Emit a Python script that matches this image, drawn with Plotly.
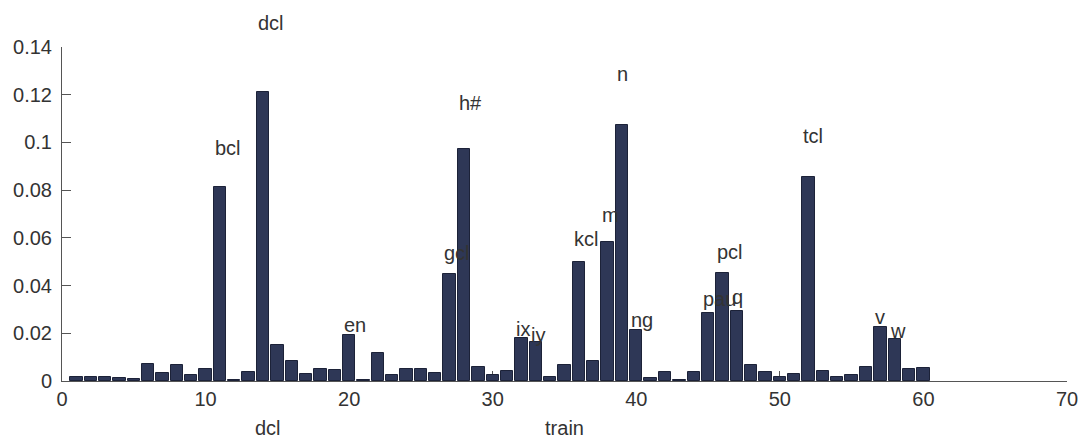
import plotly.graph_objects as go

# bar index 1..60
positions = list(range(1, 61))
values = [
    0.0018, 0.0018, 0.0017, 0.0013, 0.0008, 0.0071, 0.0035, 0.0066, 0.0025, 0.0052,
    0.0813, 0.0003, 0.0038, 0.1210, 0.0152, 0.0084, 0.0028, 0.0052, 0.0045, 0.0194,
    0.0006, 0.0119, 0.0025, 0.0050, 0.0052, 0.0032, 0.0447, 0.0971, 0.0057, 0.0024,
    0.0043, 0.0181, 0.0162, 0.0015, 0.0068, 0.0497, 0.0084, 0.0581, 0.1071, 0.0214,
    0.0012, 0.0039, 0.0003, 0.0039, 0.0286, 0.0451, 0.0292, 0.0066, 0.0038, 0.0015,
    0.0029, 0.0856, 0.0040, 0.0018, 0.0024, 0.0060, 0.0225, 0.0174, 0.0052, 0.0053,
]

# labelled phones: (bar index, label)
label_pos = [11, 14, 20, 27, 28, 32, 33, 36, 38, 39, 40, 45, 46, 47, 52, 57, 58]
label_txt = ["bcl", "dcl", "en", "gcl", "h#", "ix", "iy", "kcl", "m", "n", "ng",
             "pau", "pcl", "q", "tcl", "v", "w"]

y_ticks = [0, 0.02, 0.04, 0.06, 0.08, 0.1, 0.12, 0.14]
y_tick_text = ["0", "0.02", "0.04", "0.06", "0.08", "0.1", "0.12", "0.14"]
x_ticks = [0, 10, 20, 30, 40, 50, 60, 70]
x_tick_text = ["0", "10", "20", "30", "40", "50", "60", "70"]

x_label = "train"
bottom_label = "dcl"

FONT = "Liberation Sans, Arial, Helvetica, sans-serif"
TXT = "#333333"
AX = "#555555"
Y_MAX = 0.14

fig = go.Figure()
fig.add_trace(go.Bar(
    x=positions, y=values, width=0.86,
    marker=dict(color="#2e3756", line=dict(color="#1c2238", width=1)),
    hoverinfo="x+y",
))

for k, t in zip(label_pos, label_txt):
    v = values[k - 1]
    ly = v * 1.2
    if ly > Y_MAX * 0.98:
        # label above the axis top: place in paper units
        fig.add_annotation(
            x=k - 0.5, y=ly / Y_MAX, xref="x", yref="paper", text=t, showarrow=False,
            xanchor="left", yanchor="middle", font=dict(size=20, color=TXT, family=FONT),
            yshift=12,
        )
    else:
        fig.add_annotation(
            x=k - 0.5, y=ly, xref="x", yref="y", text=t, showarrow=False,
            xanchor="left", yanchor="middle", font=dict(size=20, color=TXT, family=FONT),
        )

fig.add_annotation(
    x=14.35, y=-0.14, xref="x", yref="paper", text=bottom_label, showarrow=False,
    xanchor="center", yanchor="middle", font=dict(size=20, color=TXT, family=FONT),
)

fig.update_layout(
    width=1084, height=439,
    margin=dict(l=62, r=17, t=47, b=58, autoexpand=False),
    paper_bgcolor="white", plot_bgcolor="white",
    showlegend=False,
    font=dict(family=FONT, size=20, color=TXT),
    bargap=0,
)
fig.update_xaxes(
    range=[0, 70], tickvals=x_ticks, ticktext=x_tick_text,
    ticks="inside", ticklen=10, tickcolor=AX, tickwidth=1,
    showline=True, linecolor=AX, linewidth=1, showgrid=False, zeroline=False,
    layer="below traces", automargin=False,
    title=dict(text=x_label, font=dict(size=20, color=TXT, family=FONT), standoff=11),
)
fig.update_yaxes(
    range=[0, Y_MAX], tickvals=y_ticks, ticktext=y_tick_text,
    ticks="inside", ticklen=9, tickcolor=AX, tickwidth=1,
    showline=True, linecolor=AX, linewidth=1, showgrid=False, zeroline=False,
    layer="below traces", automargin=False, ticklabelstandoff=5,
)

fig.write_html(
    "out.html",
    config={"displayModeBar": False},
    post_script="document.body.style.margin='0';document.body.style.overflow='hidden';",
)
